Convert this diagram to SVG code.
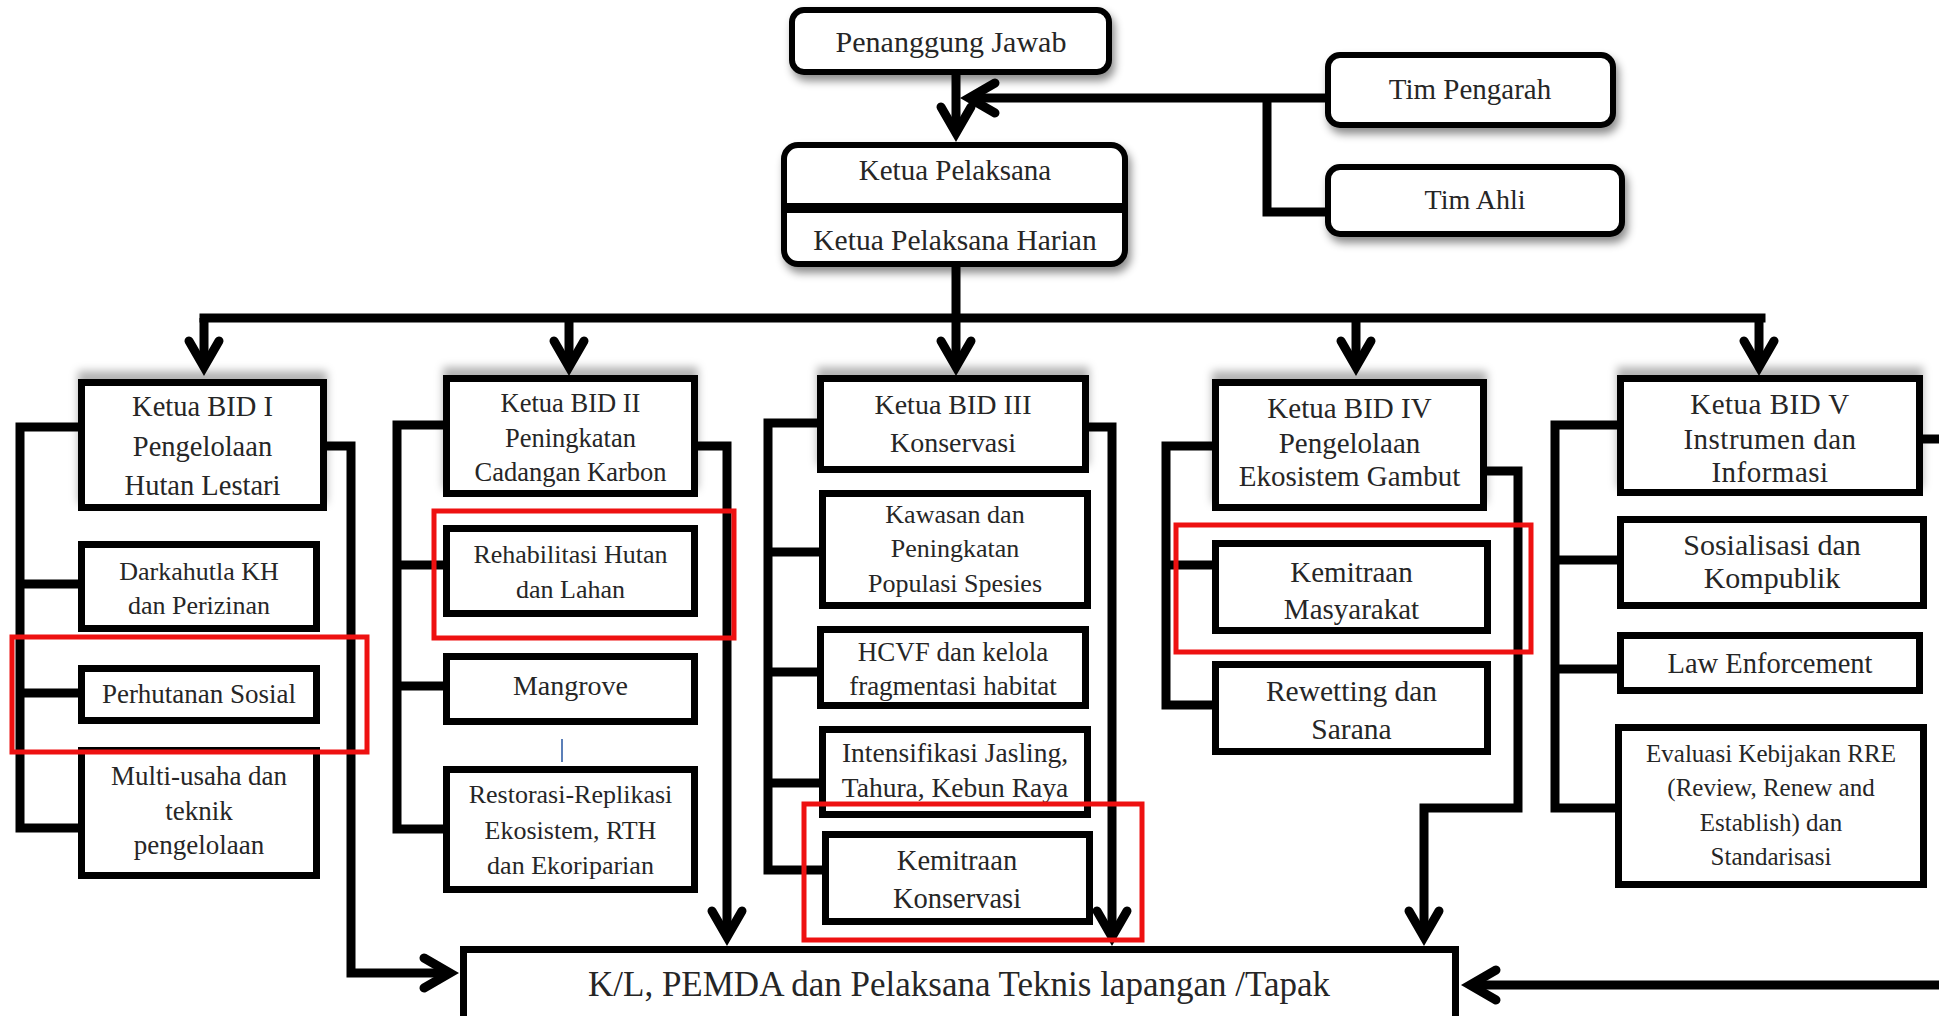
<svg xmlns="http://www.w3.org/2000/svg" width="1939" height="1016" viewBox="0 0 1939 1016">
<defs>
<style>
.tbox{fill:#fff;stroke:#000;stroke-width:6}
.box{fill:#fff;stroke:#000;stroke-width:7}
.con{fill:none;stroke:#000;stroke-width:9;stroke-linejoin:miter}
.hl{fill:none;stroke:#ee1111;stroke-width:5}
.div{stroke:#000;stroke-width:10}
.blue{stroke:#5b7fb8;stroke-width:2}
text{font-family:"Liberation Serif","Times New Roman",serif;fill:#262626;text-anchor:middle}
</style>
<marker id="arr" viewBox="-40 -24 56 48" refX="0" refY="0" markerWidth="56" markerHeight="48" markerUnits="userSpaceOnUse" orient="auto">
<path d="M-26,-15 L0,0 L-26,15" fill="none" stroke="#000" stroke-width="9" stroke-linejoin="miter" stroke-linecap="round"/>
</marker>
<filter id="sh" x="-10%" y="-20%" width="130%" height="160%">
<feDropShadow dx="3" dy="6" stdDeviation="4" flood-color="#000" flood-opacity="0.45"/>
</filter>
<filter id="shUp" x="-10%" y="-30%" width="120%" height="140%">
<feDropShadow dx="0" dy="-8" stdDeviation="4" flood-color="#000" flood-opacity="0.3"/>
</filter>
</defs>
<rect width="1939" height="1016" fill="#fff"/>

<g id="connectors">
<path class="con" d="M956,75 L956,133" marker-end="url(#arr)"/>
<path class="con" d="M1328,98 L969,98" marker-end="url(#arr)"/>
<path class="con" d="M1267,98 L1267,212 L1328,212"/>
<path class="con" d="M956,267 L956,318"/>
<path class="con" d="M204,318 L1761,318" stroke-linecap="square"/>
<path class="con" d="M204,318 L204,367" marker-end="url(#arr)"/>
<path class="con" d="M569,318 L569,367" marker-end="url(#arr)"/>
<path class="con" d="M956,318 L956,367" marker-end="url(#arr)"/>
<path class="con" d="M1356,318 L1356,367" marker-end="url(#arr)"/>
<path class="con" d="M1759,318 L1759,367" marker-end="url(#arr)"/>

<path class="con" d="M81,427 L20,427 L20,828 L81,828"/>
<path class="con" d="M20,584 L81,584 M20,693 L81,693"/>
<path class="con" d="M324,446 L351,446 L351,973 L450,973" marker-end="url(#arr)"/>

<path class="con" d="M446,425 L397,425 L397,829 L446,829"/>
<path class="con" d="M397,565 L446,565 M397,686 L446,686"/>
<path class="con" d="M695,446 L727,446 L727,937" marker-end="url(#arr)"/>

<path class="con" d="M820,423 L768,423 L768,870 L825,870"/>
<path class="con" d="M768,552 L822,552 M768,672 L820,672 M768,783 L822,783"/>
<path class="con" d="M1086,427 L1112,427 L1112,937" marker-end="url(#arr)"/>

<path class="con" d="M1215,446 L1166,446 L1166,705 L1215,705"/>
<path class="con" d="M1166,565 L1215,565"/>
<path class="con" d="M1484,471 L1518,471 L1518,808 L1424,808 L1424,937" marker-end="url(#arr)"/>

<path class="con" d="M1620,425 L1555,425 L1555,808 L1618,808"/>
<path class="con" d="M1555,560 L1620,560 M1555,669 L1620,669"/>
<path class="con" d="M1920,439 L1945,439"/>
<path class="con" d="M1945,985 L1470,985" marker-end="url(#arr)"/>
<line class="blue" x1="562" y1="739" x2="562" y2="762"/>
</g>

<g id="penanggung-jawab">
<rect class="tbox" x="792" y="10" width="317" height="62" rx="12" filter="url(#sh)"/>
<text x="951" y="52" font-size="30">Penanggung Jawab</text>
</g>
<g id="tim-pengarah">
<rect class="tbox" x="1328" y="55" width="285" height="70" rx="12" filter="url(#sh)"/>
<text x="1470" y="99" font-size="29">Tim Pengarah</text>
</g>
<g id="tim-ahli">
<rect class="tbox" x="1328" y="167" width="294" height="67" rx="12" filter="url(#sh)"/>
<text x="1475" y="209" font-size="28">Tim Ahli</text>
</g>
<g id="ketua-pelaksana">
<rect class="tbox" x="784" y="145" width="341" height="119" rx="14" filter="url(#sh)"/>
<line class="div" x1="784" y1="208" x2="1125" y2="208"/>
<text x="955" y="180" font-size="29">Ketua Pelaksana</text>
<text x="955" y="250" font-size="29.5">Ketua Pelaksana Harian</text>
</g>

<g id="bid1">
<rect class="box" x="81.5" y="382.5" width="242" height="125" filter="url(#shUp)"/>
<text font-size="28.5"><tspan x="202.5" y="416">Ketua BID I</tspan><tspan x="202.5" y="456">Pengelolaan</tspan><tspan x="202.5" y="495">Hutan Lestari</tspan></text>
</g>
<g id="darkahutla">
<rect class="box" x="81.5" y="544.5" width="235" height="84"/>
<text font-size="26"><tspan x="199" y="580">Darkahutla KH</tspan><tspan x="199" y="614">dan Perizinan</tspan></text>
</g>
<g id="perhutanan-sosial">
<rect class="box" x="81.5" y="668.5" width="235" height="52"/>
<text x="199" y="703" font-size="27">Perhutanan Sosial</text>
</g>
<g id="multi-usaha">
<rect class="box" x="81.5" y="750.5" width="235" height="125"/>
<text font-size="27"><tspan x="199" y="785">Multi-usaha dan</tspan><tspan x="199" y="820">teknik</tspan><tspan x="199" y="854">pengelolaan</tspan></text>
</g>

<g id="bid2">
<rect class="box" x="446.5" y="378.5" width="248" height="115" filter="url(#shUp)"/>
<text font-size="26.5"><tspan x="570.5" y="412">Ketua BID II</tspan><tspan x="570.5" y="447">Peningkatan</tspan><tspan x="570.5" y="481">Cadangan Karbon</tspan></text>
</g>
<g id="rehabilitasi">
<rect class="box" x="446.5" y="528.5" width="248" height="85"/>
<text font-size="26"><tspan x="570.5" y="563">Rehabilitasi Hutan</tspan><tspan x="570.5" y="598">dan Lahan</tspan></text>
</g>
<g id="mangrove">
<rect class="box" x="446.5" y="656.5" width="248" height="65"/>
<text x="570.5" y="695" font-size="28">Mangrove</text>
</g>
<g id="restorasi">
<rect class="box" x="446.5" y="769.5" width="248" height="120"/>
<text font-size="26"><tspan x="570.5" y="803">Restorasi-Replikasi</tspan><tspan x="570.5" y="839">Ekosistem, RTH</tspan><tspan x="570.5" y="874">dan Ekoriparian</tspan></text>
</g>

<g id="bid3">
<rect class="box" x="820.5" y="378.5" width="265" height="91" filter="url(#shUp)"/>
<text font-size="28"><tspan x="953" y="414">Ketua BID III</tspan><tspan x="953" y="452">Konservasi</tspan></text>
</g>
<g id="kawasan">
<rect class="box" x="822.5" y="493.5" width="265" height="112"/>
<text font-size="26"><tspan x="955" y="523">Kawasan dan</tspan><tspan x="955" y="557">Peningkatan</tspan><tspan x="955" y="592">Populasi Spesies</tspan></text>
</g>
<g id="hcvf">
<rect class="box" x="820.5" y="629.5" width="265" height="76"/>
<text font-size="27"><tspan x="953" y="661">HCVF dan kelola</tspan><tspan x="953" y="695">fragmentasi habitat</tspan></text>
</g>
<g id="intensifikasi">
<rect class="box" x="822.5" y="729.5" width="265" height="85"/>
<text font-size="27.5"><tspan x="955" y="762">Intensifikasi Jasling,</tspan><tspan x="955" y="797">Tahura, Kebun Raya</tspan></text>
</g>
<g id="kemitraan-konservasi">
<rect class="box" x="825.5" y="834.5" width="264" height="87"/>
<text font-size="28.5"><tspan x="957" y="870">Kemitraan</tspan><tspan x="957" y="908">Konservasi</tspan></text>
</g>

<g id="bid4">
<rect class="box" x="1215.5" y="382.5" width="268" height="125" filter="url(#shUp)"/>
<text font-size="29"><tspan x="1349.5" y="418">Ketua BID IV</tspan><tspan x="1349.5" y="453">Pengelolaan</tspan><tspan x="1349.5" y="486">Ekosistem Gambut</tspan></text>
</g>
<g id="kemitraan-masyarakat">
<rect class="box" x="1215.5" y="543.5" width="272" height="87"/>
<text font-size="29"><tspan x="1351.5" y="582">Kemitraan</tspan><tspan x="1351.5" y="619">Masyarakat</tspan></text>
</g>
<g id="rewetting">
<rect class="box" x="1215.5" y="664.5" width="272" height="87"/>
<text font-size="29.5"><tspan x="1351.5" y="701">Rewetting dan</tspan><tspan x="1351.5" y="739">Sarana</tspan></text>
</g>

<g id="bid5">
<rect class="box" x="1620.5" y="378.5" width="299" height="114" filter="url(#shUp)"/>
<text font-size="29" letter-spacing="0.5"><tspan x="1770" y="414">Ketua BID V</tspan><tspan x="1770" y="449">Instrumen dan</tspan><tspan x="1770" y="482">Informasi</tspan></text>
</g>
<g id="sosialisasi">
<rect class="box" x="1620.5" y="519.5" width="303" height="86"/>
<text font-size="30"><tspan x="1772" y="555">Sosialisasi dan</tspan><tspan x="1772" y="588">Kompublik</tspan></text>
</g>
<g id="law-enforcement">
<rect class="box" x="1620.5" y="635.5" width="299" height="55"/>
<text x="1770" y="673" font-size="28.5">Law Enforcement</text>
</g>
<g id="evaluasi">
<rect class="box" x="1618.5" y="727.5" width="305" height="157"/>
<text font-size="25"><tspan x="1771" y="762">Evaluasi Kebijakan RRE</tspan><tspan x="1771" y="796">(Review, Renew and</tspan><tspan x="1771" y="831">Establish) dan</tspan><tspan x="1771" y="865">Standarisasi</tspan></text>
</g>

<g id="kl-pemda">
<rect class="box" x="463.5" y="949.5" width="992" height="100"/>
<text x="959" y="996" font-size="35">K/L, PEMDA dan Pelaksana Teknis lapangan /Tapak</text>
</g>

<g id="highlights">
<rect class="hl" x="12" y="637" width="355" height="115"/>
<rect class="hl" x="434" y="511" width="300" height="127"/>
<rect class="hl" x="804" y="804" width="338" height="136"/>
<rect class="hl" x="1176" y="525" width="355" height="127"/>
</g>
</svg>
